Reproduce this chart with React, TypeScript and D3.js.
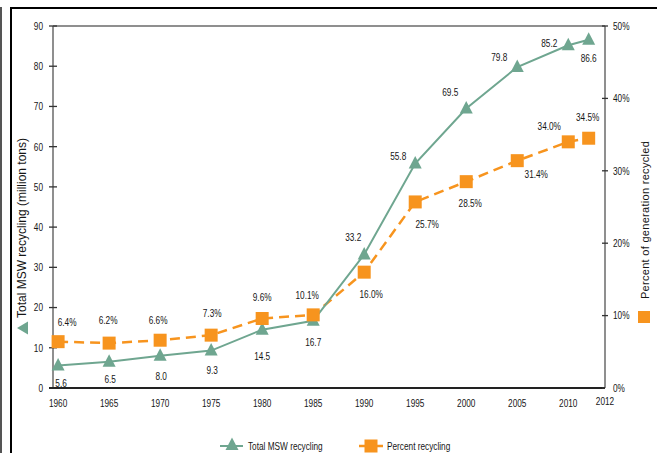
import React from "react";
import * as d3 from "d3";

const years = [1960, 1965, 1970, 1975, 1980, 1985, 1990, 1995, 2000, 2005, 2010, 2012];
const tonnage = [5.6, 6.5, 8.0, 9.3, 14.5, 16.7, 33.2, 55.8, 69.5, 79.8, 85.2, 86.6];
const percent = [6.4, 6.2, 6.6, 7.3, 9.6, 10.1, 16.0, 25.7, 28.5, 31.4, 34.0, 34.5];
const tonLabels = ["5.6", "6.5", "8.0", "9.3", "14.5", "16.7", "33.2", "55.8", "69.5", "79.8", "85.2", "86.6"];
const pctLabels = ["6.4%", "6.2%", "6.6%", "7.3%", "9.6%", "10.1%", "16.0%", "25.7%", "28.5%", "31.4%", "34.0%", "34.5%"];
const leftTicks = [0, 10, 20, 30, 40, 50, 60, 70, 80, 90];
const rightTicks = [0, 10, 20, 30, 40, 50];
const xTickYears = [1960, 1965, 1970, 1975, 1980, 1985, 1990, 1995, 2000, 2005, 2010];
const lastTickLabel = "2012";
const seriesNames = ["Total MSW recycling", "Percent recycling"];
const leftTitle = "Total MSW recycling (million tons)";
const rightTitle = "Percent of generation recycled";

// label offsets (layout only)
const tonOffsets = [[3, 17.5], [1, 17], [1, 20], [1, 19.5], [0, 26], [0, 21], [-11, -17.5], [-17, -7], [-16, -16.5], [-18, -10], [-19, -2], [0, 18]];
const pctOffsets = [[9, -20], [-1, -23], [-2, -20], [1, -22], [0, -21.5], [-6, -20], [7, 22], [12, 22], [4, 21], [19, 13], [-19, -16], [-1, -21]];

const GREEN = "#6fa690";
const ORANGE = "#f7941e";
const TEXT = "#161616";
const regular = "'Liberation Sans', Arial, sans-serif";

function NText({ x, y, anchor = "middle", size = 11, children }: { x: number; y: number; anchor?: string; size?: number; children: any }) {
  return (
    <text transform={`translate(${x},${y}) scale(0.75,1)`} dy="0.35em" textAnchor={anchor} fontFamily={regular} fontSize={size} fill={TEXT}>
      {children}
    </text>
  );
}

function Triangle({ cx, cy }: { cx: number; cy: number }) {
  const w = 13;
  return <path d={`M${cx},${cy - 7.5} L${cx + w / 2},${cy + 5} L${cx - w / 2},${cy + 5} Z`} fill={GREEN} />;
}
function Square({ cx, cy }: { cx: number; cy: number }) {
  const s = 13;
  return <rect x={cx - s / 2} y={cy - s / 2} width={s} height={s} fill={ORANGE} />;
}

export default function App() {
  const x = d3.scaleLinear().domain([1959.5, 2013.6]).range([53, 605]);
  const yL = d3.scaleLinear().domain([0, 90]).range([388, 26]);
  const yR = d3.scaleLinear().domain([0, 50]).range([388, 26]);
  const [x0, x1] = x.range();
  const [yb, yt] = yL.range();

  const greenLine = d3.line<number>().x((_, i) => x(years[i])).y((d) => yL(d))(tonnage) || "";
  const orangeLine = d3.line<number>().x((_, i) => x(years[i])).y((d) => yR(d))(percent) || "";

  const legendY = 446;

  return (
    <svg width={657} height={453} style={{ position: "absolute", left: 0, top: 0, background: "#fff" }}>
      <rect width={657} height={453} fill="#fff" />
      {/* outer frame */}
      <line x1={1} y1={7} x2={1} y2={453} stroke="#555" strokeWidth={2} />
      <line x1={11} y1={8} x2={11} y2={453} stroke="#000" strokeWidth={2} />
      <line x1={10} y1={8} x2={657} y2={8} stroke="#000" strokeWidth={2.2} />

      {/* plot frame */}
      <line x1={x0} y1={yt} x2={x1} y2={yt} stroke="#6a6a6a" strokeWidth={1.5} />
      <line x1={x0} y1={yt} x2={x0} y2={yb} stroke="#6a6a6a" strokeWidth={1.5} />
      <line x1={x1} y1={yt} x2={x1} y2={yb} stroke="#6a6a6a" strokeWidth={1.5} />
      <line x1={x0 - 4} y1={yb} x2={x1} y2={yb} stroke="#222" strokeWidth={1.8} />

      {/* left ticks */}
      {leftTicks.map((t) => (
        <g key={"l" + t}>
          {t > 0 && <line x1={x0 - 4} x2={x0 + 4} y1={yL(t)} y2={yL(t)} stroke="#333" strokeWidth={1.3} />}
          <NText x={x0 - 10} y={yL(t)} anchor="end">{t}</NText>
        </g>
      ))}
      {/* right ticks */}
      {rightTicks.map((t) => (
        <g key={"r" + t}>
          <line x1={x1 - 3} x2={x1 + (t === 0 ? 0 : 3)} y1={yR(t)} y2={yR(t)} stroke="#333" strokeWidth={1.3} />
          <NText x={x1 + 8} y={yR(t)} anchor="start">{t + "%"}</NText>
        </g>
      ))}
      {/* x tick labels */}
      {xTickYears.map((yr) => (
        <NText key={"x" + yr} x={x(yr)} y={yb + 15}>{yr}</NText>
      ))}
      <NText x={x1} y={yb + 13}>{lastTickLabel}</NText>

      {/* axis titles */}
      <g transform={`translate(22, 228) rotate(-90)`}>
        <text x={0} y={0} dy="0.35em" textAnchor="middle" fontFamily={regular} fontSize={12} fill={TEXT}>{leftTitle}</text>
      </g>
      <g transform={`translate(22, 328)`}>
        <path d="M-5,0 L6,-6.5 L6,6.5 Z" fill={GREEN} />
      </g>
      <g transform={`translate(645, 220) rotate(-90)`}>
        <text x={0} y={0} dy="0.35em" textAnchor="middle" fontFamily={regular} fontSize={11} letterSpacing={0.3} fill={TEXT}>{rightTitle}</text>
      </g>
      <rect x={644 - 6} y={317 - 6} width={12} height={12} fill={ORANGE} />

      {/* series lines */}
      <path d={orangeLine} fill="none" stroke={ORANGE} strokeWidth={2.5} strokeDasharray="10,6" />
      <path d={greenLine} fill="none" stroke={GREEN} strokeWidth={2} />

      {/* markers */}
      {tonnage.map((v, i) => <Triangle key={"t" + i} cx={x(years[i])} cy={yL(v)} />)}
      {percent.map((v, i) => <Square key={"s" + i} cx={x(years[i])} cy={yR(v)} />)}

      {/* data labels */}
      {tonnage.map((v, i) => (
        <NText key={"tl" + i} x={x(years[i]) + tonOffsets[i][0]} y={yL(v) + tonOffsets[i][1]}>{tonLabels[i]}</NText>
      ))}
      {percent.map((v, i) => (
        <NText key={"pl" + i} x={x(years[i]) + pctOffsets[i][0]} y={yR(v) + pctOffsets[i][1]}>{pctLabels[i]}</NText>
      ))}

      {/* legend */}
      <line x1={220} x2={243} y1={legendY} y2={legendY} stroke={GREEN} strokeWidth={2} />
      <Triangle cx={232} cy={legendY - 1} />
      <NText x={248} y={legendY} anchor="start">{seriesNames[0]}</NText>
      <line x1={359} x2={383} y1={legendY} y2={legendY} stroke={ORANGE} strokeWidth={2.5} />
      <Square cx={371} cy={legendY} />
      <NText x={387} y={legendY} anchor="start">{seriesNames[1]}</NText>
    </svg>
  );
}
